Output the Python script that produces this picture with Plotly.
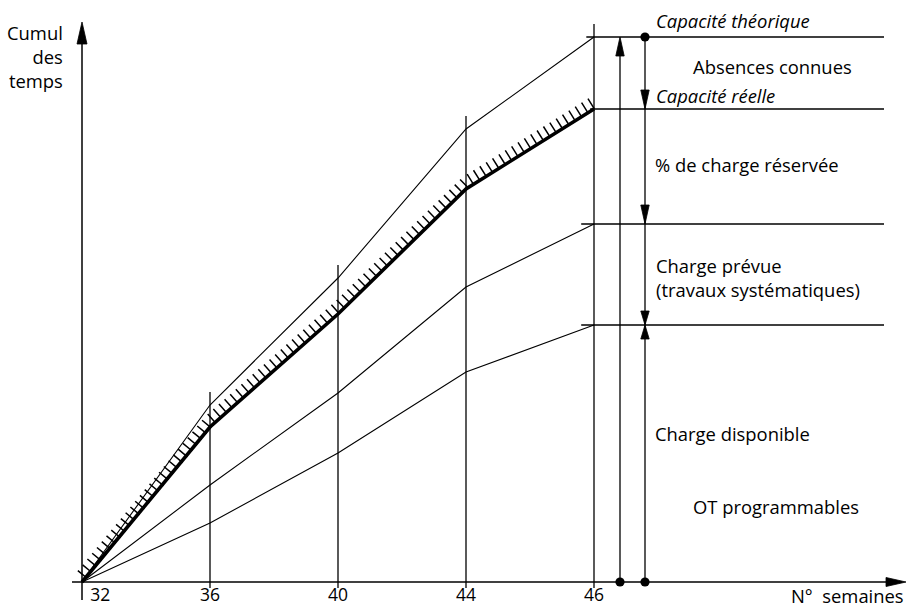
import plotly.graph_objects as go

# Weekly cumulative time curves (arbitrary units, origin at week 32)
weeks = ["32", "36", "40", "44", "46"]
capacite_theorique = [0, 177, 304, 453, 545]
capacite_reelle = [0, 155, 268, 393, 473]
charge_prevue = [0, 97, 189, 295, 358]
charge_disponible = [0, 59, 129, 210, 257]

W, H = 908, 607
X0_PX, STEP_PX, AXIS_PX = 82, 128, 582   # week 32 position, spacing, time axis line
HATCH_SHIFT = 7                          # hatching offset above the real capacity line


def gx(p):
    """horizontal page pixel -> x axis coordinate (category index)"""
    return (p - X0_PX) / STEP_PX


def gy(p):
    """vertical page pixel -> y axis coordinate"""
    return AXIS_PX - p


fig = go.Figure()

thin = dict(color="black", width=1.1)
for serie in (capacite_theorique, charge_prevue, charge_disponible):
    fig.add_trace(go.Scatter(x=weeks, y=serie, mode="lines", line=thin,
                             hoverinfo="skip", showlegend=False))

# hatching drawn on a slightly shifted overlay axis, above the real capacity line
fig.add_trace(go.Scatter(x=weeks, y=capacite_reelle, yaxis="y2", mode="lines",
                         line=dict(color="black", width=12, dash="1.5px,6px"),
                         hoverinfo="skip", showlegend=False))
fig.add_trace(go.Scatter(x=weeks, y=capacite_reelle, mode="lines",
                         line=dict(color="black", width=3.6),
                         hoverinfo="skip", showlegend=False))

shapes = []
line_k = dict(color="black", width=1.3)

# vertical week lines (from just below the axis to just above the top curve)
for i, top in enumerate(capacite_theorique[1:], start=1):
    shapes.append(dict(type="line", xref="x", yref="y", x0=i, x1=i,
                       y0=-6, y1=top + 13, line=line_k))

# horizontal level lines at week 46
last = len(weeks) - 1
for serie, start in ((capacite_theorique, 3.94), (capacite_reelle, 3.97),
                     (charge_prevue, 3.9), (charge_disponible, 3.9)):
    shapes.append(dict(type="line", xref="x", yref="y", x0=start, x1=gx(884),
                       y0=serie[last], y1=serie[last], line=line_k))

# axes
shapes.append(dict(type="line", xref="x", yref="y", x0=gx(72), x1=gx(892),
                   y0=0, y1=0, line=dict(color="black", width=1.5)))
shapes.append(dict(type="line", xref="x", yref="y", x0=0, x1=0,
                   y0=gy(600), y1=gy(40), line=dict(color="black", width=1.5)))


def head(x, y, up=True, w=4.2, h=19):
    s = h if up else -h
    return dict(type="path", xref="x", yref="y", xsizemode="pixel", ysizemode="pixel",
                xanchor=x, yanchor=y, path=f"M0,0 L{-w},{-s} L{w},{-s} Z",
                fillcolor="black", line=dict(color="black", width=0.8))


def dot(x, y, r=4.6):
    return dict(type="circle", xref="x", yref="y", xsizemode="pixel", ysizemode="pixel",
                xanchor=x, yanchor=y, x0=-r, x1=r, y0=-r, y1=r,
                fillcolor="black", line=dict(color="black", width=0))


# axis arrowheads
shapes.append(dict(type="path", xref="x", yref="y", xsizemode="pixel", ysizemode="pixel",
                   xanchor=gx(906), yanchor=0, path="M0,0 L-20,4.5 L-20,-4.5 Z",
                   fillcolor="black", line=dict(color="black", width=0.8)))
shapes.append(dict(type="path", xref="x", yref="y", xsizemode="pixel", ysizemode="pixel",
                   xanchor=0, yanchor=gy(22), path="M0,0 L-5,-22 L5,-22 Z",
                   fillcolor="black", line=dict(color="black", width=0.8)))

# capacity brackets at week 46
xa, xb = gx(620), gx(645)
shapes.append(dict(type="line", xref="x", yref="y", x0=xa, x1=xa,
                   y0=0, y1=capacite_theorique[last] - 8, line=line_k))
shapes.append(head(xa, capacite_theorique[last], up=True))
shapes.append(dot(xa, 0))

shapes.append(dict(type="line", xref="x", yref="y", x0=xb, x1=xb,
                   y0=0, y1=capacite_theorique[last], line=line_k))
shapes.append(dot(xb, capacite_theorique[last]))
shapes.append(dot(xb, 0))
shapes.append(head(xb, capacite_reelle[last], up=False))
shapes.append(head(xb, charge_prevue[last], up=False))
shapes.append(head(xb, charge_disponible[last], up=False, h=14))
shapes.append(head(xb, charge_disponible[last], up=True, h=14))

FONT = "Open Sans"
TXT = 18.4
annotations = []


def label(text, px, py, anchor="left", align="left"):
    annotations.append(dict(text=text, x=gx(px), y=gy(py), xref="x", yref="y",
                            xanchor=anchor, yanchor="middle", showarrow=False,
                            align=align, font=dict(family=FONT, size=TXT, color="black")))


label("Cumul<br>des<br>temps", 65, 56, anchor="right", align="right")
label("<i>Capacité théorique</i>", 654, 20)
label("Absences connues", 691, 66)
label("<i>Capacité réelle</i>", 654, 95)
label("% de charge réservée", 653, 164)
label("Charge prévue<br>(travaux systématiques)", 654, 277)
label("Charge disponible", 653, 433)
label("OT programmables", 691, 506)
label("N°\u00a0\u00a0semaines", 906, 595, anchor="right")

ticktext = ["\u00a0" * 8 + weeks[0]] + weeks[1:]

fig.update_layout(
    width=W, height=H,
    margin=dict(l=0, r=0, t=0, b=0),
    paper_bgcolor="white", plot_bgcolor="white",
    font=dict(family=FONT, size=TXT, color="black"),
    showlegend=False,
    shapes=shapes,
    annotations=annotations,
    xaxis=dict(type="category", range=[gx(0), gx(W)], showgrid=False, zeroline=False,
               showline=False, ticks="", anchor="free", position=(H - AXIS_PX) / H,
               automargin=False,
               tickmode="array", tickvals=weeks, ticktext=ticktext,
               tickfont=dict(family=FONT, size=17.5, color="black"), ticklabelstandoff=0),
    yaxis=dict(range=[gy(H), gy(0)], visible=False, fixedrange=True, automargin=False),
    yaxis2=dict(range=[gy(H) - HATCH_SHIFT, gy(0) - HATCH_SHIFT], visible=False,
                overlaying="y", automargin=False),
)

fig.write_html("out.html")
